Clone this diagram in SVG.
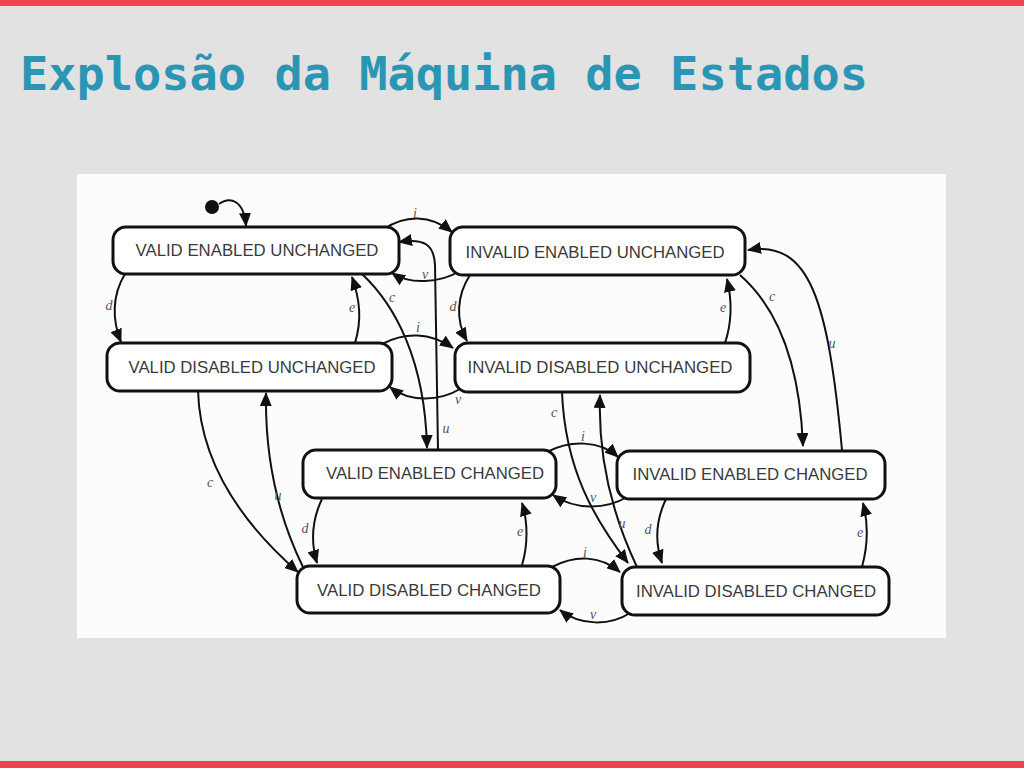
<svg xmlns="http://www.w3.org/2000/svg" width="1024" height="768" viewBox="0 0 1024 768">
<style>
.node rect{fill:#fff;stroke:#111;stroke-width:3}
.node text{font-family:"Liberation Sans",Arial,sans-serif;font-size:16.5px;fill:#3a3a3a;text-anchor:middle}
.edges path{fill:none;stroke:#111;stroke-width:2;marker-end:url(#ah)}
.lbl{font-family:"Liberation Serif","Times New Roman",serif;font-style:italic;font-size:14px;fill:#555;text-anchor:middle}
</style>
<defs>
<marker id="ah" markerUnits="userSpaceOnUse" markerWidth="14" markerHeight="12" refX="13" refY="6" orient="auto" viewBox="0 0 14 12">
<path d="M0,0 L14,6 L0,12 z" fill="#111"/>
</marker>
</defs>
<rect width="1024" height="768" fill="#e2e2e2"/>
<rect width="1024" height="6" fill="#f0434f"/>
<rect y="761" width="1024" height="7" fill="#f0434f"/>
<text x="20" y="90" font-family="'DejaVu Sans Mono','Liberation Mono',monospace" font-weight="bold" font-size="46" fill="#2b96b4" textLength="848" lengthAdjust="spacingAndGlyphs">Explosão da Máquina de Estados</text>
<rect x="77" y="174" width="869" height="464" fill="#fcfcfc"/>

<g id="initial">
<circle cx="212" cy="207" r="7" fill="#111"/>
</g>

<g id="edges" class="edges">
<path d="M219 204 C230 196, 244 200, 246 226"/>
<path d="M384 229 C405 215, 430 214, 452 232"/>
<path d="M460 271 C440 283, 410 285, 392 273"/>
<path d="M438 450 L435 265 C434 245, 425 238, 399 242"/>
<path d="M362 274 C395 305, 425 360, 427 448"/>
<path d="M125 274 C112 295, 112 320, 121 342"/>
<path d="M355 343 C362 320, 360 300, 352 277"/>
<path d="M382 344 C405 332, 430 332, 453 348"/>
<path d="M460 389 C440 401, 410 403, 390 387"/>
<path d="M470 275 C457 295, 455 320, 467 341"/>
<path d="M725 343 C732 322, 732 300, 727 279"/>
<path d="M740 275 C780 310, 800 370, 803 446"/>
<path d="M842 450 C828 300, 810 240, 748 250"/>
<path d="M198 390 C200 470, 250 530, 298 572"/>
<path d="M303 567 C275 510, 265 450, 266 393"/>
<path d="M562 392 C565 470, 595 520, 628 563"/>
<path d="M637 567 C610 510, 598 450, 600 395"/>
<path d="M547 452 C570 440, 600 440, 618 457"/>
<path d="M627 497 C605 510, 575 510, 553 495"/>
<path d="M322 499 C312 520, 310 540, 317 563"/>
<path d="M522 565 C528 545, 528 522, 522 503"/>
<path d="M666 499 C656 520, 654 540, 662 563"/>
<path d="M862 567 C868 545, 868 522, 863 503"/>
<path d="M552 567 C575 555, 600 555, 620 572"/>
<path d="M630 613 C610 626, 580 626, 560 610"/>
</g>

<g id="labels">
<text class="lbl" x="415" y="218">i</text>
<text class="lbl" x="425" y="279">v</text>
<text class="lbl" x="392" y="302">c</text>
<text class="lbl" x="109" y="310">d</text>
<text class="lbl" x="352" y="312">e</text>
<text class="lbl" x="418" y="332">i</text>
<text class="lbl" x="458" y="404">v</text>
<text class="lbl" x="453" y="311">d</text>
<text class="lbl" x="723" y="312">e</text>
<text class="lbl" x="772" y="301">c</text>
<text class="lbl" x="832" y="348">u</text>
<text class="lbl" x="554" y="417">c</text>
<text class="lbl" x="446" y="433">u</text>
<text class="lbl" x="210" y="487">c</text>
<text class="lbl" x="278" y="500">u</text>
<text class="lbl" x="583" y="441">i</text>
<text class="lbl" x="593" y="502">v</text>
<text class="lbl" x="305" y="533">d</text>
<text class="lbl" x="520" y="536">e</text>
<text class="lbl" x="585" y="557">i</text>
<text class="lbl" x="593" y="619">v</text>
<text class="lbl" x="622" y="528">u</text>
<text class="lbl" x="648" y="534">d</text>
<text class="lbl" x="860" y="537">e</text>
</g>

<g id="veu" class="node"><rect x="113" y="227" width="286" height="47" rx="13"/><text x="257" y="256" textLength="243" lengthAdjust="spacingAndGlyphs">VALID ENABLED UNCHANGED</text></g>
<g id="vdu" class="node"><rect x="107" y="343" width="285" height="48" rx="13"/><text x="252" y="373" textLength="247" lengthAdjust="spacingAndGlyphs">VALID DISABLED UNCHANGED</text></g>
<g id="ieu" class="node"><rect x="450" y="227" width="295" height="48" rx="13"/><text x="595" y="258" textLength="259" lengthAdjust="spacingAndGlyphs">INVALID ENABLED UNCHANGED</text></g>
<g id="idu" class="node"><rect x="455" y="343" width="295" height="49" rx="13"/><text x="600" y="373" textLength="265" lengthAdjust="spacingAndGlyphs">INVALID DISABLED UNCHANGED</text></g>
<g id="vec" class="node"><rect x="303" y="450" width="253" height="48" rx="13"/><text x="435" y="479" textLength="218" lengthAdjust="spacingAndGlyphs">VALID ENABLED CHANGED</text></g>
<g id="vdc" class="node"><rect x="297" y="566" width="263" height="47" rx="13"/><text x="429" y="596" textLength="224" lengthAdjust="spacingAndGlyphs">VALID DISABLED CHANGED</text></g>
<g id="iec" class="node"><rect x="617" y="451" width="268" height="48" rx="13"/><text x="750" y="480" textLength="235" lengthAdjust="spacingAndGlyphs">INVALID ENABLED CHANGED</text></g>
<g id="idc" class="node"><rect x="622" y="567" width="267" height="48" rx="13"/><text x="756" y="597" textLength="240" lengthAdjust="spacingAndGlyphs">INVALID DISABLED CHANGED</text></g>
</svg>
